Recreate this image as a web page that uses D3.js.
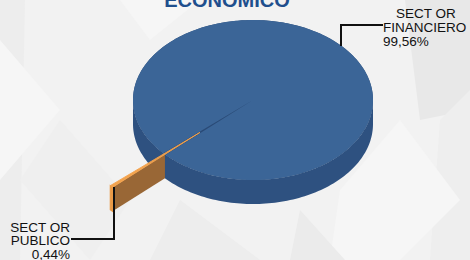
<!DOCTYPE html>
<html><head><meta charset="utf-8">
<script src="https://cdn.jsdelivr.net/npm/d3@7"></script>
<style>html,body{margin:0;padding:0;background:#f2f2f2;}svg{display:block;}</style>
</head><body>
<script>
const categories = ["SECTOR FINANCIERO", "SECTOR PUBLICO"];
const values = [99.56, 0.44];
const valueLabels = ["99,56%", "0,44%"];
const titleText = "ECONOMICO";

const W = 470, H = 260;
const svg = d3.select("body").append("svg").attr("width", W).attr("height", H);

// background
svg.append("rect").attr("width", W).attr("height", H).attr("fill", "#f2f2f2");
const bg = svg.append("g");
const shapes = [
  {p:[[0,0],[25,0],[20,260],[0,260]], c:"#ededed"},
  {p:[[0,40],[60,110],[0,180]], c:"#f6f6f6"},
  {p:[[405,0],[470,0],[470,110],[420,120]], c:"#e8e8e8"},
  {p:[[440,120],[470,90],[470,260],[430,260]], c:"#eeeeee"},
  {p:[[340,190],[400,120],[460,200],[400,260],[330,260]], c:"#f6f6f6"},
  {p:[[60,120],[130,200],[90,260],[20,180]], c:"#efefef"},
  {p:[[180,200],[260,260],[150,260]], c:"#ededed"},
  {p:[[300,210],[345,260],[290,260]], c:"#ebebeb"},
  {p:[[120,0],[200,0],[150,40]], c:"#f6f6f6"}
];
shapes.forEach(s => bg.append("path").attr("d", d3.line()(s.p)).attr("fill", s.c));

// 3D pie geometry
const cx = 253, cy = 100, rx = 120, ry = 80, depth = 24, explode = 0.6;
const rot = 228.3 * Math.PI / 180;
const pie = d3.pie().sort(null).startAngle(rot).endAngle(rot + 2 * Math.PI);
const arcs = pie(values);

const colors = [
  {top:"#3b6597", side:"#2e5180"},
  {top:"#f3a24c", side:"#996736", edge:"#eb9b48"}
];

const toT = a => a - Math.PI / 2;  // d3 angle -> ellipse parameter
function pt(ox, oy, t, r, z) {
  return [cx + ox + r * rx * Math.cos(t), cy + oy + r * ry * Math.sin(t) + z];
}
function arcPts(ox, oy, t0, t1, r, z, n) {
  const out = [];
  for (let i = 0; i <= n; i++) { const t = t0 + (t1 - t0) * i / n; out.push(pt(ox, oy, t, r, z)); }
  return out;
}
const line = d3.line();

const big = arcs[0], small = arcs[1];

// Blue body: side wall (front half)
const sideFront = arcPts(0, 0, 0, Math.PI, 1, 0, 120).concat(arcPts(0, 0, Math.PI, 0, 1, depth, 120));
svg.append("path").attr("d", line(sideFront) + "Z").attr("fill", colors[0].side);
// dark under-top (shows through gap)
svg.append("path").attr("d", line(arcPts(0, 0, 0, 2 * Math.PI, 1, 0, 200)) + "Z").attr("fill", "#2a4a76");
// blue top wedge
{
  const t0 = toT(big.startAngle), t1 = toT(big.endAngle);
  const p = [[cx, cy]].concat(arcPts(0, 0, t0, t1, 1, 0, 360));
  svg.append("path").attr("d", line(p) + "Z").attr("fill", colors[0].top);
}

// Orange exploded slice
{
  const t0 = toT(small.startAngle), t1 = toT(small.endAngle), tm = (t0 + t1) / 2;
  const ox = explode * rx * Math.cos(tm), oy = explode * ry * Math.sin(tm);
  const c = Math.cos(t0 - tm);
  const s = -explode * c + Math.sqrt(explode * explode * c * c - explode * explode + 1);
  const face = [pt(ox, oy, t0, s, 0), pt(ox, oy, t0, 1, 0), pt(ox, oy, t0, 1, depth), pt(ox, oy, t0, s, depth)];
  svg.append("path").attr("d", line(face) + "Z").attr("fill", colors[1].side);
  const outer = arcPts(ox, oy, t0, t1, 1, 0, 6).concat(arcPts(ox, oy, t1, t0, 1, depth, 6));
  svg.append("path").attr("d", line(outer) + "Z").attr("fill", colors[1].edge)
     .attr("stroke", colors[1].edge).attr("stroke-width", 1.2);
  const top = [[cx + ox, cy + oy]].concat(arcPts(ox, oy, t0, t1, 1, 0, 6));
  svg.append("path").attr("d", line(top) + "Z").attr("fill", colors[1].top)
     .attr("stroke", colors[1].top).attr("stroke-width", 0.9).attr("stroke-linejoin", "round");
}

// Title
svg.append("text").attr("x", 227).attr("y", 7).attr("text-anchor", "middle")
  .attr("font-family", "Liberation Sans, Arial, sans-serif").attr("font-weight", "bold")
  .attr("font-size", 20).attr("fill", "#1f4f8d").text(titleText);

// Leader lines
const leader = d3.line();
svg.append("path").attr("d", leader([[341, 46], [341, 25], [383, 25]]))
  .attr("fill", "none").attr("stroke", "#111").attr("stroke-width", 2);
svg.append("path").attr("d", leader([[114, 187], [114, 239], [71, 239]]))
  .attr("fill", "none").attr("stroke", "#111").attr("stroke-width", 2);

// Labels
const font = "Liberation Sans, Arial, sans-serif";
function lbl(g, x, y, anchor, txt) {
  g.append("text").attr("x", x).attr("y", y).attr("text-anchor", anchor)
    .attr("font-family", font).attr("font-size", 13.5).attr("fill", "#111").text(txt);
}
const w1 = categories[0].split(" "), w2 = categories[1].split(" ");
const spaced = w => w.slice(0, 4) + " " + w.slice(4);  // rendered as "SECT OR" in the reference
const lf = svg.append("g");
lbl(lf, 426, 18, "middle", spaced(w1[0]));
lbl(lf, 383, 32, "start", w1[1]);
lbl(lf, 383, 46, "start", valueLabels[0]);
const lp = svg.append("g");
lbl(lp, 70, 232, "end", spaced(w2[0]));
lbl(lp, 70, 245, "end", w2[1]);
lbl(lp, 70, 259, "end", valueLabels[1]);
</script>
</body></html>
